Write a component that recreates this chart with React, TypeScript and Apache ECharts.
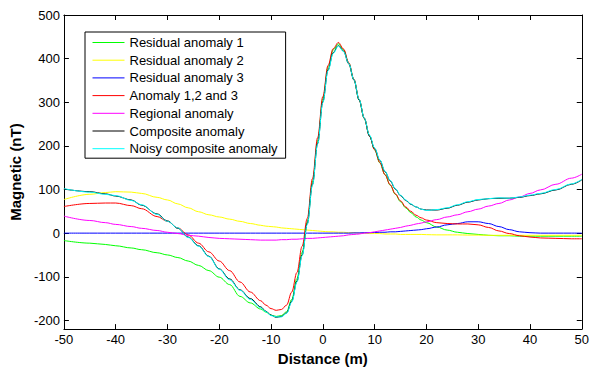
import React, { useEffect, useRef } from "react";
import * as echarts from "echarts";

const xs = [-50,-45,-42,-40,-37,-35,-32,-30,-28,-26,-24,-22,-20,-18,-16,-14,-12,-11,-10,-9,-8,-7,-6,-5,-4,-3,-2,-1,0,1,2,3,4,5,6,7,8,9,10,11,12,13,14,15,16,17,18,19,20,22,24,26,28,30,32,34,36,38,40,42,45,48,50];

const residual1 = [-17,-23,-26,-29,-34,-38,-45,-50,-56,-64, -74,-86,-101,-118,-145,-160,-174,-181,-188,-191, -189,-180,-152,-104,-44,26,118,213,308,380, 420,434,420,390,352,306,263,224,191,161, 134,110,89,72,58,47,37,30,24,14, 7,2,-1,-3,-5,-6,-6,-7,-7,-7, -7,-7,-7];
const residual2 = [77,89,93,95,94,91,82,76,67,58, 49,42,37,32,27,22,18,16,15,14, 12,11,10,9,8,7,6,5,4,3, 3,2,2,1,1,0,0,-1,-1,-1, -2,-2,-2,-3,-3,-3,-3,-3,-3.5,-4, -4,-4,-4.5,-4.5,-5,-5,-5,-5,-5,-5, -5,-5,-5];
const residual3 = [0,0,0,0,0,0,0,0,0,0, 0,0,0,0,0,0,0,0,0,0, 0,0,0,0,0,0,0,0,0,0, 0,0,0,0,0.5,0.5,1,1,1.5,2, 2,3,3,4,5,6,7,8,10,14, 19,22,26,26,22,15,8,3,1,0, 0,0,0];
const anomaly123 = [61,68,69,69,63,56,38,27,12,-4, -23,-43,-64,-86,-112,-135,-155,-165,-173,-177, -175,-165,-135,-90,-30,34,125,219,313,384, 423,437,422,391,353,307,264,224,191,162, 134,111,90,74,60,50,41,35,30,24, 22,21,21,19,13,5,-1,-6,-9,-11, -12,-13,-13];
const regional = [39,29,24,20,15,11,6,2,-1,-5, -7,-10,-12,-13,-14,-15,-16,-16,-16,-16, -15,-15,-14,-14,-13,-12,-12,-11,-10,-9, -8,-7,-6,-4,-3,-2,0,1,3,5, 7,9,11,13,16,18,21,23,26,31, 37,42,49,55,62,68,76,83,91,99, 112,126,135];
const composite = [101,95,90,85,76,64,44,28,11,-9, -29,-53,-82,-105,-130,-150,-169,-179,-188,-193, -191,-183,-156,-110,-50,22,112,206,301,374, 414,430,417,388,351,305,263,222,194,167, 141,120,101,86,75,66,60,55,53,53, 57,64,71,76,79,80,80,82,86,90, 99,112,122];
const noisyComposite = [102,94,89,86,75,65,43,27,12,-10, -30,-54,-83,-107,-131,-152,-171,-180,-189,-192, -192,-184,-158,-112,-52,20,110,204,299,372, 412,429,416,389,352,307,264,225,195,168, 142,121,102,87,76,67,60,55,52,54, 58,65,72,77,79,81,80,83,87,91, 100,113,123];

const seriesNames = [
  "Residual anomaly 1",
  "Residual anomaly 2",
  "Residual anomaly 3",
  "Anomaly 1,2 and 3",
  "Regional anomaly",
  "Composite anomaly",
  "Noisy composite anomaly",
];
const seriesColors = ["#00ff00", "#ffff00", "#0000ff", "#ff0000", "#ff00ff", "#000000", "#00ffff"];
const seriesValues = [residual1, residual2, residual3, anomaly123, regional, composite, noisyComposite];

const yTicks = [-200, -100, 0, 100, 200, 300, 400, 500];

const FONT = "'Liberation Sans', Arial, sans-serif";

export default function App() {
  const ref = useRef<HTMLDivElement>(null);
  useEffect(() => {
    document.body.style.margin = "0";
    const chart = echarts.init(ref.current!, null, { renderer: "svg" });
    const axisLine = { show: true, onZero: false, lineStyle: { color: "#000", width: 1 } };
    const tick = { show: true, inside: true, length: 5, lineStyle: { color: "#000" } };
    const label = { color: "#000", fontSize: 13, fontFamily: FONT, margin: 4 };
    const option: any = {
      animation: false,
      backgroundColor: "#fff",
      grid: { left: 60, right: 6, top: 15, bottom: 38, containLabel: false },
      legend: {
        data: seriesNames,
        orient: "vertical",
        left: 85,
        top: 32,
        backgroundColor: "#fff",
        borderColor: "#000",
        borderWidth: 1,
        padding: [4, 8, 3, 7],
        itemWidth: 32,
        itemHeight: 13,
        itemGap: 4.7,
        itemStyle: { opacity: 0 },
        lineStyle: { width: 1 },
        textStyle: { fontSize: 13, fontFamily: FONT, color: "#000", lineHeight: 13 },
      },
      xAxis: [
        {
          type: "value", min: -50, max: 50, interval: 10, position: "bottom",
          axisLine, axisTick: tick, axisLabel: label, splitLine: { show: false },
          name: "Distance (m)", nameLocation: "middle", nameGap: 20,
          nameTextStyle: { fontWeight: "bold", fontSize: 15, fontFamily: FONT, color: "#000" },
        },
        {
          type: "value", min: -50, max: 50, interval: 10, position: "top",
          axisLine, axisTick: tick, axisLabel: { show: false }, splitLine: { show: false },
        },
      ],
      yAxis: [
        {
          type: "value", min: -220, max: 500, position: "left",
          axisLine, axisTick: { ...tick, customValues: yTicks },
          axisLabel: { ...label, customValues: yTicks }, splitLine: { show: false },
          name: "Magnetic (nT)", nameLocation: "middle", nameGap: 37,
          nameTextStyle: { fontWeight: "bold", fontSize: 15, fontFamily: FONT, color: "#000" },
        },
        {
          type: "value", min: -220, max: 500, position: "right",
          axisLine, axisTick: { ...tick, customValues: yTicks },
          axisLabel: { show: false }, splitLine: { show: false },
        },
      ],
      series: seriesNames.map((name, k) => ({
        name,
        type: "line",
        xAxisIndex: 0,
        yAxisIndex: 0,
        data: xs.map((x, i) => [x, seriesValues[k][i]]),
        symbol: "none",
        smooth: 0.35,
        smoothMonotone: "x",
        lineStyle: { color: seriesColors[k], width: 1 },
        itemStyle: { color: seriesColors[k] },
        z: 2 + k,
      })),
    };
    chart.setOption(option);
    return () => chart.dispose();
  }, []);
  return <div ref={ref} style={{ width: 592, height: 371 }} />;
}
